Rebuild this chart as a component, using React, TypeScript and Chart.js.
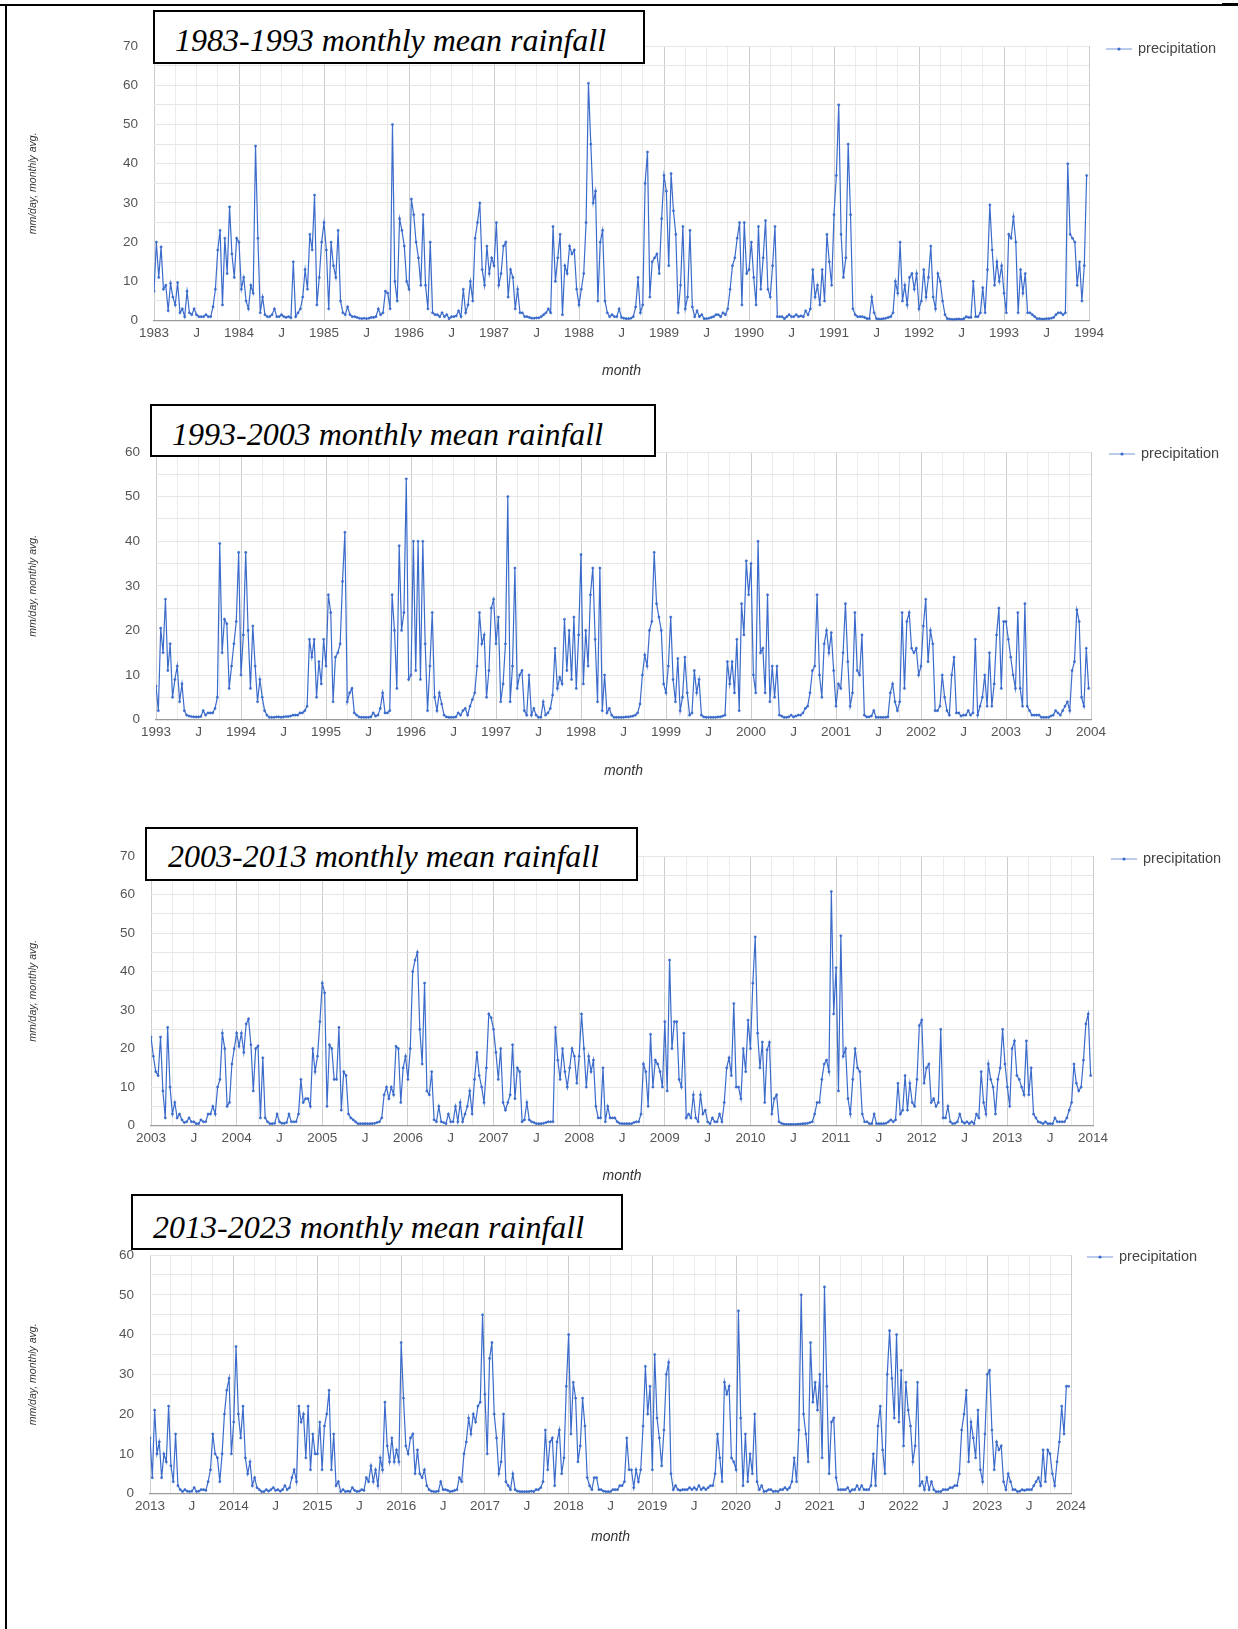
import React, { useEffect, useRef } from 'react';
import { Chart, registerables } from 'chart.js';

Chart.register(...registerables);

// ---------------- DATA (mm/day, ~10-day steps, 36 values per year) ----------------
const rain1983_1993: number[][] = [
  [7.5,20,11, 18.8,8,9, 2.5,9.5,6, 4,9.7,2, 3,1,7.5, 2,1.5,3, 1.5,1,1, 1,1.5,1, 1,3.5,8, 18,23,4, 21,12,29, 17,11,21],
  [20,8,11, 5,3,9, 7,44.5,21, 2,6,1.5, 1,1,1.5, 3,1,1, 1.5,1,0.8, 1,0.7,15, 1,2,3, 6,13,8, 22,18,32, 4,11,20],
  [25,18,3, 20,14,11, 23,5,2, 1.5,3.5,1.5, 1,1,0.8, 0.6,0.5,0.6, 0.5,0.6,0.8, 0.8,1,3, 1.5,2,7.5, 7,3,50, 10,5,26, 23,19,10],
  [8,31,27, 20,16,9, 27,9,3, 20,2,1.5, 1.5,1,2, 1,1.5,0.5, 1,1,1.2, 2.5,1,8, 2,4,10, 5,21,25, 30,13,9, 19,12,16],
  [14,25,9, 12,19,20, 6,13,11, 3,8,2, 2,1,1, 0.8,0.6,0.6, 0.7,0.7,1, 1.5,2,3, 2,24,10, 16,22,1.5, 14,12,19, 17,18,8],
  [4,8,12, 25,60.5,45, 30,33,5, 20,23,5, 2,1,1.5, 1,1,3, 0.8,0.6,0.5, 0.5,0.6,1, 3.5,11,2, 4,35,43, 6,15,16, 17,12,26],
  [37,33,14, 37.5,28,22, 2,9,24, 3,6,23, 3.5,1,2.5, 1,1.5,0.5, 0.5,0.6,0.8, 1,1.5,1.5, 1,2,1.5, 3,8,14, 16,21,25, 4,25,12],
  [13,20,11, 4,24,8, 16,25.5,8, 6,14,24, 1,1,1, 0.5,1,1.5, 1,1,1.5, 1,1.2,1, 2.5,1.5,3, 13,6,9, 4,13,5, 22,15,9],
  [27,37,55, 22,11,16, 45,27,3, 1.5,1,1, 1,0.8,0.5, 0.5,6,2, 0.5,0.4,0.4, 0.5,0.6,0.8, 1,2,10, 7,20,5, 9,4,11, 12,8,12],
  [3,5,13, 6,11,19, 6,3,12, 10,5,1.5, 0.5,0.4,0.3, 0.3,0.4,0.4, 0.3,0.5,1, 0.8,0.8,10, 1,1,2, 8.4,2,13, 29.5,18,9, 15,10,14],
  [7,2,22, 21,26.5,20, 2,13,7, 12,2,2, 1.5,1,0.5, 0.5,0.4,0.4, 0.5,0.5,0.6, 0.8,1.5,2, 2,1.5,2, 40,22,21, 20,9,15, 5,14,37],
];

const rain1993_2003: number[][] = [
  [7.5,2,20.5, 15,27,11, 17,5,9, 12,4,8, 2,1,0.8, 0.7,0.6,0.6, 0.6,0.7,2, 1,1.5,1.5, 1.5,2.5,5, 39.5,15,22.5, 21.5,7,12, 17,22,37.5],
  [10,19,37.5, 20,7,21, 12,4,9, 5,2,1, 0.5,0.5,0.5, 0.6,0.6,0.5, 0.6,0.7,0.7, 0.8,1,1, 1,1.5,1.5, 2,3,18, 14,18,5, 13,8,18],
  [12,28,24, 4,14,15, 17,31,42, 4,6,7, 1.5,1,0.6, 0.5,0.5,0.5, 0.5,0.6,1.5, 0.8,1,2.5, 6,1.5,1.5, 2,28,20, 7,39,20, 24,54,9],
  [10,40,11, 40,9,40, 17,2,12, 24,5,2, 6,3.5,1, 0.6,0.5,0.5, 0.5,0.6,1.5, 1,2,2.5, 1,3,4.5, 6,12,24, 17,19,5, 11,25,27],
  [17,23,4, 8,17,50, 4,12,34, 7,10,11, 2,1,10, 1,2.5,1, 0.5,0.5,4, 1,1.5,2.5, 5.5,16,7, 9.5,8,22.5, 11,20,9, 23,7,19],
  [37,8,20, 12,28,34, 18,4,34, 2,10,1.5, 2.5,1,0.5, 0.5,0.5,0.5, 0.5,0.6,0.6, 0.7,0.8,1, 1.5,3.5,10, 14.5,12,20, 22,37.5,26, 23,20,8],
  [6,12,23, 9,4,13.7, 2,5,14, 6,1,1.5, 11,6,9, 1,0.6,0.5, 0.5,0.5,0.5, 0.5,0.6,0.6, 0.8,1,13, 8,13,6, 18,2,26, 19,35.6,28],
  [35,10,6, 40,15,16, 6,28,4, 12,5,12, 1,0.8,0.5, 0.5,0.6,1, 0.6,0.8,1, 1,1.5,2.5, 3,6,11, 12,28,10, 5,17,20, 15,19.5,11],
  [3,8,7, 15,26,13, 3,6,24, 11,10,19, 1,0.6,0.6, 0.8,2,0.5, 0.5,0.5,0.5, 0.5,0.6,6, 8,4,2, 4,24,7, 22,24,16, 15,16,10],
  [12,21,27, 13,20,17, 2,2,3, 10,5,2, 1,10,14, 1.5,1.5,0.8, 1,1,2, 1,1.5,18, 1,3,5, 10,3,15, 3,8,19, 25,7,22],
  [22,18,14, 10,7,24, 7,3,26, 3,2,1, 1,1,1, 0.5,0.5,0.5, 0.5,0.8,1, 2,1.5,1, 2,3,4, 2,11,13, 24.6,22,5, 3,16,7],
];

const rain2003_2013: number[][] = [
  [23,18,14, 13,23,9, 2,25.5,10, 3,6,2, 3,1.5,0.8, 1,2,1, 1,0.5,0.5, 1.5,1,1, 3,3,5, 3,10,12, 24,20,5, 6,16,20],
  [24,20.6,24, 19,26.4,27.7, 21,9,20, 20.7,2,17.6, 2,1,0.5, 0.5,0.6,3, 1,0.6,0.6, 0.8,3,1, 1,1,3, 12,6,7, 7,5,20, 14,18,27],
  [37,34.5,5, 21,20,12, 12,25.5,4, 14,13,3, 2,1.5,1, 0.5,0.5,0.5, 0.5,0.5,0.5, 0.5,0.6,0.8, 1,2,8, 10,7,10, 8,20.6,20, 6,15,18],
  [12,20,40, 43,45,25, 16,37,9, 8,14,1.5, 1,5,1, 0.8,0.5,3, 1,1,5, 1,6,1, 3,5,9, 3,12,19, 13,10,6, 15,29,28],
  [25,19,12, 20,6,4, 6,8,21, 7,15,14, 1,1.5,6, 1.5,1,0.8, 0.5,0.5,0.5, 0.6,0.8,1, 1,1,25.5, 17,12,20, 14,10,15, 20,18,11],
  [18,29,20, 10,18,14, 17,5,2, 2,15,1, 5,2,2, 2,1,0.6, 0.5,0.5,0.5, 0.5,0.5,0.8, 1,1,3, 16,14,5, 23.7,10,17, 16,14,10],
  [27,9,43, 20,27,27, 12,10,24, 2,3,2, 8,2,1, 8,3,4, 1,0.5,2, 1,1,3, 1,6,15, 17.6,13,31.7, 10,10,7, 20,14,27.4],
  [20,37,49, 24,15,21.7, 6,19.7,21.6, 3,7,8, 1,0.6,0.4, 0.3,0.3,0.3, 0.3,0.3,0.4, 0.4,0.5,0.5, 0.6,0.8,1, 3,6,6, 12,16,17, 14,60.8,29],
  [41,9,49.3, 18,20,7, 3,12,20, 15,14,3, 1,1,0.5, 0.5,3,0.5, 0.5,0.5,0.5, 0.6,1,1.5, 1,1.5,11, 3,4,13, 4,11,6, 5,12,26],
  [27.4,11,15, 16,6,7, 5,6,25, 2,2,5, 1,0.5,0.6, 1,3,1, 0.6,1,0.5, 1,0.5,3, 2,14,6, 3,16,12, 10,3,12, 15,25,16],
  [10,5,20, 22,13,12, 10,8,22, 8,15,3, 2,1,0.8, 0.5,1,0.5, 0.5,0.5,2, 1,1,1, 1,2,4, 6,16,11, 9,10,17, 26.4,29,13],
];

const rain2013_2023: number[][] = [
  [14,4,21, 10,13,4, 10,8,22, 7,3,15, 2,1,0.5, 1,0.6,0.5, 0.6,1.5,0.5, 0.6,1,1, 0.8,3,6, 15,10,9, 3,10,20, 26,29,10],
  [18,37,20, 14,22,9, 5,8,2, 4,1.5,1, 0.5,0.5,1, 0.6,1,1.5, 0.8,1,0.6, 1,2,1, 1.5,4,6, 3,22,18, 20,9,22, 6,15,10],
  [10,18,6, 17,20,26, 6,15,2, 3,0.5,1, 0.5,0.6,0.5, 1.5,0.8,0.5, 0.6,1,0.8, 4,3,7, 3,6,2, 9,6,23, 12,8,14, 8,11,8],
  [38,24,12, 10,14,15, 5,11,5, 4,6,2, 1,0.6,0.5, 0.5,0.6,3, 1,1,0.8, 0.5,0.6,0.8, 1,4,3, 10,13,19, 15,20,18, 22,23,45],
  [25,10,34, 38,20,14, 5,8,20, 3,2,1, 5,1,0.6, 0.5,0.5,0.5, 0.5,0.5,0.6, 0.5,1,1, 1.5,3,16, 6,13,14, 2,13,16, 5,9,27],
  [40,15,28, 24,8,12, 24,17,4, 2,1,4, 4,1,1, 0.6,0.5,0.5, 0.5,1,1, 1,2,2, 3,14,6, 6,1.5,6, 3,6,17, 32,20,27],
  [6,35,19, 14,7,16, 30,33,5, 1,2,1, 0.8,1,1, 1,1.5,1, 1.5,1,2, 1,1.5,1, 1.5,2,2, 5,15,9, 3,28,25, 27,9,8],
  [6,46,19, 2,15,3, 10,5,20, 3,1,2, 0.5,0.6,1, 1,0.5,0.6, 0.5,1,1, 1.5,1,1.5, 3,9,3, 16,50,20, 15,8,38, 23,28,21],
  [30,9,52, 27,5,18, 19,4,1, 1,1,1, 1.5,0.5,1, 1,2,1, 2,1,1, 1,2,10, 2,17,22, 11,5,30, 41,29,19, 40,18,31],
  [12,28,21, 17,8,12, 28,2,3, 1,4,1, 3,1,0.5, 0.5,0.5,1, 1,1,1.5, 1.5,2,2, 5,16,20, 26,8,18, 14,9,21, 6,3,15],
  [30,31,16, 6,13,11, 12,3,1, 5,3,1, 1,0.5,0.6, 1,0.8,1, 1,1,2, 3,4,2, 11,3,11, 10,5,2, 8,13,22, 15,27,27],
];

const panelSeries = [rain1983_1993, rain1993_2003, rain2003_2013, rain2013_2023];
const startYears = [1983, 1993, 2003, 2013];
const yMaxes = [70, 60, 70, 60];
const panelTitles = [
  '1983-1993 monthly mean rainfall',
  '1993-2003 monthly mean rainfall',
  '2003-2013 monthly mean rainfall',
  '2013-2023 monthly mean rainfall',
];
const seriesLabel = 'precipitation';
const xAxisTitle = 'month';
const yAxisTitle = 'mm/day, monthly avg.';
const midYearLabel = 'J';
const STEPS_PER_YEAR = 36;
const YEARS_SPAN = 11;

// ---------------- LAYOUT / STYLE ----------------
const PAGE_W = 1238;
const PAGE_H = 1629;
const BLUE = '#3b6bcb';
const FONT = "'Liberation Sans', Arial, Helvetica, sans-serif";
const PAD_LEFT = 26.7;
const PAD_TOP = 22;
const X_TITLE_SIZE = 14;

type Layout = {
  plotLeft: number; plotRight: number; plotTop: number; plotBottom: number;
  xTitleOffset: number; legendY: number; legendX: number;
  box: { left: number; top: number; w: number; h: number; textLeft: number; baseline: number; clip?: number };
};

const layouts: Layout[] = [
  { plotLeft: 154, plotRight: 1089, plotTop: 44, plotBottom: 321, xTitleOffset: 51, legendY: 49, legendX: 1106,
    box: { left: 153, top: 10, w: 492, h: 54, textLeft: 20, baseline: 51 } },
  { plotLeft: 156, plotRight: 1091, plotTop: 450, plotBottom: 720, xTitleOffset: 52, legendY: 454, legendX: 1109,
    box: { left: 150, top: 404, w: 506, h: 53, textLeft: 20, baseline: 445, clip: 447 } },
  { plotLeft: 151, plotRight: 1093, plotTop: 854, plotBottom: 1126, xTitleOffset: 51, legendY: 859, legendX: 1111,
    box: { left: 145, top: 827, w: 493, h: 54, textLeft: 21, baseline: 867 } },
  { plotLeft: 150, plotRight: 1071, plotTop: 1253, plotBottom: 1494, xTitleOffset: 44, legendY: 1257, legendX: 1087,
    box: { left: 131, top: 1194, w: 492, h: 56, textLeft: 20, baseline: 1238 } },
];

function RainChart({ idx }: { idx: number }) {
  const ref = useRef<HTMLCanvasElement | null>(null);
  const lay = layouts[idx];
  const xH = lay.xTitleOffset + (X_TITLE_SIZE * 1.2) / 2;
  const plotH = lay.plotBottom - lay.plotTop;
  const canvasTop = lay.plotTop - PAD_TOP;
  const canvasH = Math.round(PAD_TOP + plotH + xH + 2);

  useEffect(() => {
    const start = startYears[idx];
    const values = panelSeries[idx].flat();
    const points = values.map((v, i) => ({ x: start + i / STEPS_PER_YEAR, y: v }));

    const legendPlugin = {
      id: 'rainLegend',
      afterDraw(chart: any) {
        const ctx = chart.ctx as CanvasRenderingContext2D;
        const y = lay.legendY - canvasTop;
        ctx.save();
        ctx.strokeStyle = '#8ea8de';
        ctx.lineWidth = 1.2;
        ctx.beginPath();
        ctx.moveTo(lay.legendX, y);
        ctx.lineTo(lay.legendX + 26, y);
        ctx.stroke();
        ctx.fillStyle = BLUE;
        ctx.beginPath();
        ctx.arc(lay.legendX + 13, y, 1.6, 0, Math.PI * 2);
        ctx.fill();
        ctx.fillStyle = '#444';
        ctx.font = `14.5px ${FONT}`;
        ctx.textBaseline = 'middle';
        ctx.textAlign = 'left';
        ctx.fillText(chart.data.datasets[0].label, lay.legendX + 32, y);
        ctx.restore();
      },
    };

    const chart = new Chart(ref.current as HTMLCanvasElement, {
      type: 'line',
      data: {
        datasets: [{
          label: seriesLabel,
          data: points,
          borderColor: BLUE,
          backgroundColor: BLUE,
          borderWidth: 1.2,
          pointRadius: 1.1,
          pointBorderWidth: 0.6,
          pointHoverRadius: 0,
          tension: 0,
          fill: false,
        }],
      },
      options: {
        animation: false,
        responsive: false,
        maintainAspectRatio: false,
        events: [],
        layout: { padding: { left: PAD_LEFT, right: PAGE_W - lay.plotRight, top: PAD_TOP, bottom: 2 } },
        plugins: { legend: { display: false }, tooltip: { enabled: false }, title: { display: false } },
        scales: {
          x: {
            type: 'linear',
            min: start,
            max: start + YEARS_SPAN,
            afterFit: (s: any) => { s.height = xH; },
            ticks: {
              stepSize: 0.25,
              autoSkip: false,
              maxRotation: 0,
              minRotation: 0,
              padding: 5,
              color: '#555',
              font: { family: FONT, size: 13.5 },
              callback: (v: any) => {
                const val = Number(v);
                const q = Math.round((val - Math.floor(val + 1e-6)) * 4);
                if (q === 0 || q === 4) return String(Math.round(val));
                if (q === 2) return midYearLabel;
                return '';
              },
            },
            grid: {
              drawTicks: false,
              lineWidth: 1,
              color: (c: any) => {
                const val = c.tick ? c.tick.value : 0;
                return Math.abs(val - Math.round(val)) < 1e-6 ? '#cdcdcd' : '#ebebeb';
              },
            },
            border: { display: true, color: '#9a9a9a', width: 1.3 },
            title: {
              display: true,
              text: xAxisTitle,
              padding: 0,
              color: '#333',
              font: { family: FONT, size: X_TITLE_SIZE, style: 'italic' },
            },
          },
          y: {
            min: 0,
            max: yMaxes[idx],
            afterFit: (s: any) => { s.width = lay.plotLeft - PAD_LEFT; },
            ticks: {
              stepSize: 5,
              autoSkip: false,
              padding: 16,
              color: '#555',
              font: { family: FONT, size: 13.5 },
              callback: (v: any) => (Number(v) % 10 === 0 ? String(v) : ''),
            },
            grid: { drawTicks: false, color: '#e6e6e6', lineWidth: 1 },
            border: { display: false },
            title: {
              display: true,
              text: yAxisTitle,
              padding: 0,
              color: '#333',
              font: { family: FONT, size: 10.5, style: 'italic' },
            },
          },
        },
      } as any,
      plugins: [legendPlugin],
    });
    return () => chart.destroy();
  }, [idx]);

  return (
    <canvas
      ref={ref}
      width={PAGE_W}
      height={canvasH}
      style={{ position: 'absolute', left: 0, top: canvasTop, width: PAGE_W, height: canvasH, display: 'block' }}
    />
  );
}

function TitleBox({ idx }: { idx: number }) {
  const b = layouts[idx].box;
  const fontSize = 32;
  const lineTopToBaseline = 26.8;
  const innerTop = b.top + 2;
  const textTop = b.baseline - lineTopToBaseline - innerTop;
  const clipH = b.clip ? b.clip - innerTop : b.h - 4;
  return (
    <div style={{
      position: 'absolute', left: b.left, top: b.top, width: b.w, height: b.h,
      border: '2px solid #000', background: '#fff', boxSizing: 'border-box',
    }}>
      <div style={{ position: 'absolute', left: 0, top: 0, right: 0, height: clipH, overflow: 'hidden' }}>
        <div style={{
          position: 'absolute', left: b.textLeft, top: textTop, whiteSpace: 'nowrap',
          fontFamily: "'Liberation Serif', 'Times New Roman', serif", fontStyle: 'italic',
          fontSize, lineHeight: `${fontSize}px`, color: '#000',
        }}>{panelTitles[idx]}</div>
      </div>
    </div>
  );
}

export default function App() {
  return (
    <div style={{ position: 'absolute', left: 0, top: 0, width: PAGE_W, height: PAGE_H, background: '#fff', overflow: 'hidden' }}>
      {[0, 1, 2, 3].map((i) => <RainChart key={'c' + i} idx={i} />)}
      {[0, 1, 2, 3].map((i) => <TitleBox key={'t' + i} idx={i} />)}
      {/* page frame */}
      <div style={{ position: 'absolute', left: 0, top: 4, width: 1222, height: 1.5, background: '#000' }} />
      <div style={{ position: 'absolute', left: 1222, top: 3, width: 16, height: 3, background: '#000' }} />
      <div style={{ position: 'absolute', left: 5, top: 4, width: 2, height: PAGE_H - 4, background: '#000' }} />
    </div>
  );
}
